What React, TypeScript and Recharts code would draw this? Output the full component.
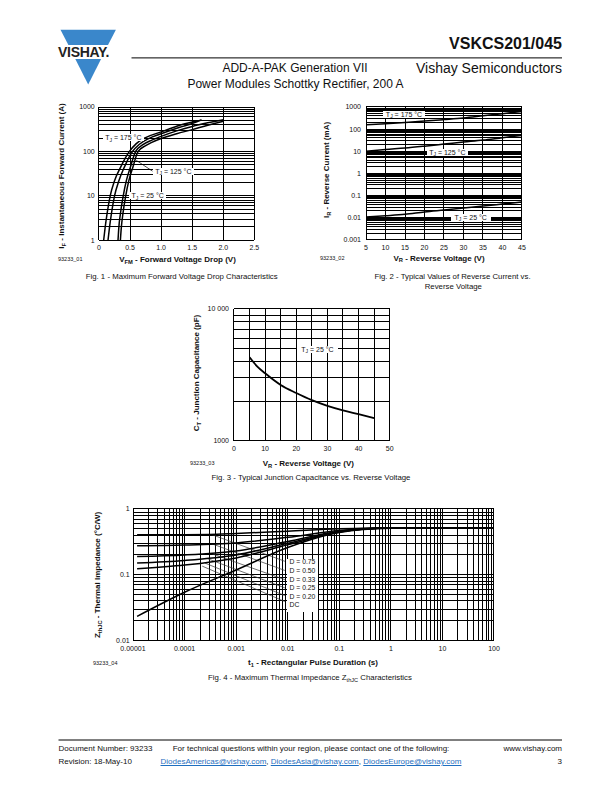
import React from 'react';
import { ComposedChart, Line, XAxis, YAxis, CartesianGrid } from 'recharts';

const FONT = '"Liberation Sans", Arial, Helvetica, sans-serif';

type Pt = { x: number; y: number };
const pts = (a: number[][]): Pt[] => a.map(([x, y]) => ({ x, y }));

// ---------------- Fig. 1 data ----------------
const fig1XTicks = [0, 0.5, 1, 1.5, 2, 2.5];
const fig1XLabels = ['0', '0.5', '1.0', '1.5', '2.0', '2.5'];
const fig1YDecades = [1, 10, 100, 1000];
const fig1YLabels = ['1', '10', '100', '1000'];
const fig1Tj175 = [[0.075, 1], [0.1, 2], [0.13, 4], [0.18, 10], [0.25, 22], [0.35, 45], [0.49, 100], [0.6, 150], [0.75, 205], [1.0, 275], [1.25, 370], [1.57, 484]];
const fig1Tj125 = [[0.145, 1], [0.17, 2], [0.2, 4], [0.25, 10], [0.32, 22], [0.41, 45], [0.54, 100], [0.65, 145], [0.8, 195], [1.0, 250], [1.3, 350], [1.5, 425], [1.65, 515]];
const fig1Tj25a = [[0.306, 1], [0.32, 2], [0.345, 4], [0.39, 10], [0.44, 22], [0.5, 42], [0.59, 100], [0.7, 140], [0.85, 180], [1.0, 218], [1.25, 290], [1.5, 365], [1.75, 440], [2.0, 518]];
const fig1Tj25b = [[0.344, 1], [0.36, 2], [0.385, 4], [0.43, 10], [0.48, 22], [0.54, 42], [0.63, 100], [0.75, 135], [0.85, 160], [1.0, 195], [1.25, 250], [1.5, 310], [1.75, 390], [2.0, 480]];
const fig1Leader125 = [[0.6, 63], [0.86, 36]];

// ---------------- Fig. 2 data ----------------
const fig2XTicks = [5, 10, 15, 20, 25, 30, 35, 40, 45];
const fig2XLabels = ['5', '10', '15', '20', '25', '30', '35', '40', '45'];
const fig2YDecades = [0.001, 0.01, 0.1, 1, 10, 100, 1000];
const fig2YLabels = ['0.001', '0.01', '0.1', '1', '10', '100', '1000'];
const fig2Tj175 = [[5, 155], [10, 175], [15, 200], [20, 230], [25, 270], [30, 320], [35, 400], [40, 500], [45, 620]];
const fig2Tj125 = [[5, 10], [10, 12], [15, 14], [20, 17], [25, 21], [30, 26], [35, 32], [40, 41], [45, 52]];
const fig2Tj25 = [[5, 0.0105], [10, 0.012], [15, 0.014], [20, 0.018], [25, 0.022], [30, 0.027], [35, 0.033], [40, 0.041], [45, 0.051]];

// ---------------- Fig. 3 data ----------------
const fig3XTicks = [0, 5, 10, 15, 20, 25, 30, 35, 40, 45, 50];
const fig3XLabelVals = [0, 10, 20, 30, 40, 50];
const fig3XLabels = ['0', '10', '20', '30', '40', '50'];
const fig3YDecades = [1000, 10000];
const fig3YLabels = ['1000', '10 000'];
const fig3Tj25 = [[5, 4300], [7.5, 3650], [10, 3250], [15, 2650], [20, 2300], [25, 2030], [30, 1840], [35, 1700], [40, 1590], [45, 1485]];

// ---------------- Fig. 4 data ----------------
const fig4XDecades = [0.00001, 0.0001, 0.001, 0.01, 0.1, 1, 10, 100];
const fig4XLabels = ['0.00001', '0.0001', '0.001', '0.01', '0.1', '1', '10', '100'];
const fig4YDecades = [0.01, 0.1, 1];
const fig4YLabels = ['0.01', '0.1', '1'];
const fig4D075 = [[1.2e-5, 0.406], [1e-4, 0.407], [3e-4, 0.41], [1e-3, 0.425], [0.01, 0.46], [0.1, 0.5], [1, 0.52], [100, 0.52]];
const fig4D050 = [[1.2e-5, 0.276], [1e-4, 0.283], [1e-3, 0.305], [0.01, 0.37], [0.1, 0.47], [1, 0.515], [100, 0.52]];
const fig4D033 = [[1.2e-5, 0.19], [1e-4, 0.2], [1e-3, 0.23], [0.01, 0.32], [0.1, 0.46], [1, 0.515], [100, 0.52]];
const fig4D025 = [[1.2e-5, 0.151], [1e-4, 0.165], [1e-3, 0.2], [0.01, 0.3], [0.1, 0.45], [1, 0.513], [100, 0.52]];
const fig4D020 = [[1.2e-5, 0.123], [1e-4, 0.14], [1e-3, 0.18], [0.01, 0.285], [0.1, 0.445], [1, 0.512], [100, 0.52]];
const fig4DC = [[1.2e-5, 0.0232], [1e-4, 0.054], [1e-3, 0.118], [0.01, 0.26], [0.1, 0.44], [1, 0.51], [10, 0.52], [100, 0.52]];
const fig4Leaders = [
  [[3.3e-4, 0.41], [0.0088, 0.16]],
  [[3.6e-4, 0.29], [0.0088, 0.116]],
  [[3.3e-4, 0.21], [0.0088, 0.084]],
  [[2.8e-4, 0.175], [0.0088, 0.063]],
  [[2.5e-4, 0.15], [0.0088, 0.048]],
  [[2.2e-4, 0.135], [0.0088, 0.039]],
];
const fig4LegendLabels = ['D = 0.75', 'D = 0.50', 'D = 0.33', 'D = 0.25', 'D = 0.20', 'DC'];

// ---------------- helpers ----------------
const logGrid = (decades: number[]): number[] => {
  const out: number[] = [];
  for (let i = 0; i < decades.length - 1; i++) {
    for (let m = 1; m < 10; m++) out.push(Number((decades[i] * m).toPrecision(6)));
  }
  out.push(decades[decades.length - 1]);
  return out;
};
const fmtFrom = (vals: number[], labels: string[]) => (v: number) => {
  const i = vals.findIndex((d) => Math.abs(d - v) <= Math.abs(d) * 1e-6 + 1e-12);
  return i >= 0 ? labels[i] : '';
};

interface SeriesDef { data: Pt[]; w: number; c: string; linear?: boolean }
interface PlotProps {
  rect: { l: number; r: number; t: number; b: number };
  xDomain: [number, number];
  yDomain: [number, number];
  xLog?: boolean;
  yLog?: boolean;
  xTicks: number[];
  yTicks: number[];
  xFmt: (v: number) => string;
  yFmt: (v: number) => string;
  xTickMargin: number;
  yTickMargin: number;
  series: SeriesDef[];
}

function Plot(p: PlotProps) {
  const YW = 45, XH = 20, PT = 6, PR = 14;
  const left = p.rect.l - YW;
  const top = p.rect.t - PT;
  const width = p.rect.r - p.rect.l + YW + PR;
  const height = p.rect.b - p.rect.t + PT + XH;
  const tick = { fontSize: 7, fill: '#111', fontFamily: FONT };
  return (
    <div style={{ position: 'absolute', left, top, width, height }}>
      <ComposedChart width={width} height={height} margin={{ top: PT, right: PR, bottom: 0, left: 0 }}>
        <CartesianGrid stroke="#000" strokeWidth={1} shapeRendering="crispEdges" />
        <XAxis
          type="number"
          dataKey="x"
          domain={p.xDomain}
          scale={p.xLog ? 'log' : 'linear'}
          ticks={p.xTicks}
          interval={0}
          tickFormatter={p.xFmt}
          allowDataOverflow
          axisLine={false}
          tickLine={false}
          tickSize={0}
          tickMargin={p.xTickMargin}
          height={XH}
          tick={tick}
        />
        <YAxis
          type="number"
          domain={p.yDomain}
          scale={p.yLog ? 'log' : 'linear'}
          ticks={p.yTicks}
          interval={0}
          tickFormatter={p.yFmt}
          allowDataOverflow
          axisLine={false}
          tickLine={false}
          tickSize={0}
          tickMargin={p.yTickMargin}
          width={YW}
          tick={tick}
        />
        {p.series.map((s, i) => (
          <Line
            key={i}
            data={s.data}
            dataKey="y"
            type={s.linear ? 'linear' : 'monotone'}
            dot={false}
            activeDot={false}
            stroke={s.c}
            strokeWidth={s.w}
            isAnimationActive={false}
          />
        ))}
      </ComposedChart>
    </div>
  );
}

const Sub = ({ children }: { children: React.ReactNode }) => (
  <span style={{ fontSize: '0.72em', position: 'relative', top: '0.28em' }}>{children}</span>
);

function T(props: { x: number; y: number; size: number; anchor?: 'start' | 'middle' | 'end'; bold?: boolean; color?: string; children: React.ReactNode }) {
  const tx = props.anchor === 'middle' ? '-50%' : props.anchor === 'end' ? '-100%' : '0';
  return (
    <div
      style={{
        position: 'absolute',
        left: props.x,
        top: props.y,
        transform: `translate(${tx}, -50%)`,
        fontSize: props.size,
        lineHeight: 1,
        fontWeight: props.bold ? 700 : 400,
        color: props.color || '#111',
        whiteSpace: 'nowrap',
        fontFamily: FONT,
      }}
    >
      {props.children}
    </div>
  );
}

function VT(props: { x: number; y: number; size: number; children: React.ReactNode }) {
  return (
    <div
      style={{
        position: 'absolute',
        left: props.x,
        top: props.y,
        transform: 'translate(-50%, -50%) rotate(-90deg)',
        fontSize: props.size,
        lineHeight: 1,
        fontWeight: 700,
        color: '#111',
        whiteSpace: 'nowrap',
        fontFamily: FONT,
      }}
    >
      {props.children}
    </div>
  );
}

function Box(props: { l: number; r: number; cy: number; h?: number; children: React.ReactNode }) {
  const h = props.h || 7;
  return (
    <div
      style={{
        position: 'absolute',
        left: props.l,
        top: props.cy - h / 2,
        width: props.r - props.l,
        height: h,
        background: '#fff',
        fontSize: 7,
        lineHeight: `${h}px`,
        textAlign: 'center',
        whiteSpace: 'nowrap',
        fontFamily: FONT,
        color: '#111',
      }}
    >
      {props.children}
    </div>
  );
}

const TJ = ({ t }: { t: string }) => (
  <span>
    T<Sub>J</Sub> = {t} °C
  </span>
);

export default function App() {
  const LINK = '#1f6fc0';
  return (
    <div style={{ position: 'absolute', left: 0, top: 0, width: 612, height: 792, background: '#fff', fontFamily: FONT, overflow: 'hidden' }}>
      {/* Logo */}
      <svg width={612} height={792} style={{ position: 'absolute', left: 0, top: 0 }}>
        <polygon points="60.5,29.8 115.9,29.8 108,45 68.4,45" fill="#3a87cb" />
        <polygon points="75.3,59 101.1,59 88.2,84.4" fill="#3a87cb" />
        <text x={58} y={57} fontSize={14} fontWeight={700} fontFamily={FONT} fill="#222" letterSpacing={-0.3}>VISHAY.</text>
        <line x1={131.5} y1={57.9} x2={562} y2={57.9} stroke="#000" strokeWidth={1} />
        <line x1={58.5} y1={740} x2={562} y2={740} stroke="#000" strokeWidth={1} />
      </svg>
      <T x={562} y={43.5} size={16} anchor="end" bold>VSKCS201/045</T>
      <T x={295} y={68} size={12} anchor="middle">ADD-A-PAK Generation VII</T>
      <T x={295.5} y={84} size={12} anchor="middle">Power Modules Schottky Rectifier, 200 A</T>
      <T x={562} y={68} size={14} anchor="end">Vishay Semiconductors</T>

      {/* Fig. 1 */}
      <Plot
        rect={{ l: 99.3, r: 254.7, t: 106.7, b: 240 }}
        xDomain={[0, 2.5]}
        yDomain={[1, 1000]}
        yLog
        xTicks={fig1XTicks}
        yTicks={logGrid(fig1YDecades)}
        xFmt={fmtFrom(fig1XTicks, fig1XLabels)}
        yFmt={fmtFrom(fig1YDecades, fig1YLabels)}
        xTickMargin={5}
        yTickMargin={4.3}
        series={[
          { data: pts(fig1Tj175), w: 1.5, c: '#000' },
          { data: pts(fig1Tj125), w: 1.5, c: '#000' },
          { data: pts(fig1Tj25a), w: 1.5, c: '#000' },
          { data: pts(fig1Tj25b), w: 1.5, c: '#000' },
          { data: pts(fig1Leader125), w: 0.7, c: '#000', linear: true },
        ]}
      />
      <Box l={102.7} r={144} cy={137.8}><TJ t="175" /></Box>
      <Box l={152.7} r={194} cy={171}><TJ t="125" /></Box>
      <Box l={129.3} r={166} cy={195.6}><TJ t="25" /></Box>
      <VT x={62} y={176} size={8}>I<Sub>F</Sub> - Instantaneous Forward Current (A)</VT>
      <T x={58} y={260} size={5.5}>93233_01</T>
      <T x={177.5} y={260} size={8} anchor="middle" bold>V<Sub>FM</Sub> - Forward Voltage Drop (V)</T>
      <T x={181.7} y={277} size={7.8} anchor="middle">Fig. 1 - Maximum Forward Voltage Drop Characteristics</T>

      {/* Fig. 2 */}
      <Plot
        rect={{ l: 365.7, r: 521.7, t: 107.3, b: 240 }}
        xDomain={[5, 45]}
        yDomain={[0.001, 1000]}
        yLog
        xTicks={fig2XTicks}
        yTicks={logGrid(fig2YDecades)}
        xFmt={fmtFrom(fig2XTicks, fig2XLabels)}
        yFmt={fmtFrom(fig2YDecades, fig2YLabels)}
        xTickMargin={5}
        yTickMargin={5}
        series={[
          { data: pts(fig2Tj175), w: 1.5, c: '#000' },
          { data: pts(fig2Tj125), w: 1.5, c: '#000' },
          { data: pts(fig2Tj25), w: 1.5, c: '#000' },
        ]}
      />
      <Box l={383} r={425} cy={114.5}><TJ t="175" /></Box>
      <Box l={426.7} r={468} cy={152}><TJ t="125" /></Box>
      <Box l={450.7} r={490.7} cy={217.5}><TJ t="25" /></Box>
      <VT x={327} y={170} size={8}>I<Sub>R</Sub> - Reverse Current (mA)</VT>
      <T x={320} y={258.5} size={5.5}>93233_02</T>
      <T x={439} y={258.5} size={8} anchor="middle" bold>V<Sub>R</Sub> - Reverse Voltage (V)</T>
      <T x={452.5} y={277} size={7.8} anchor="middle">Fig. 2 - Typical Values of Reverse Current vs.</T>
      <T x={453.3} y={286.5} size={7.8} anchor="middle">Reverse Voltage</T>

      {/* Fig. 3 */}
      <Plot
        rect={{ l: 234.3, r: 390, t: 309.3, b: 441 }}
        xDomain={[0, 50]}
        yDomain={[1000, 10000]}
        yLog
        xTicks={fig3XTicks}
        yTicks={logGrid(fig3YDecades)}
        xFmt={fmtFrom(fig3XLabelVals, fig3XLabels)}
        yFmt={fmtFrom(fig3YDecades, fig3YLabels)}
        xTickMargin={5.5}
        yTickMargin={5}
        series={[{ data: pts(fig3Tj25), w: 1.8, c: '#000' }]}
      />
      <Box l={297} r={338} cy={349}><TJ t="25" /></Box>
      <VT x={197} y={373} size={8}>C<Sub>T</Sub> - Junction Capacitance (pF)</VT>
      <T x={190} y={464} size={5.5}>93233_03</T>
      <T x={308.3} y={464} size={8} anchor="middle" bold>V<Sub>R</Sub> - Reverse Voltage (V)</T>
      <T x={311} y={478} size={7.8} anchor="middle">Fig. 3 - Typical Junction Capacitance vs. Reverse Voltage</T>

      {/* Fig. 4 */}
      <Plot
        rect={{ l: 133.3, r: 494.3, t: 509.3, b: 640.7 }}
        xDomain={[0.00001, 100]}
        yDomain={[0.01, 1]}
        xLog
        yLog
        xTicks={logGrid(fig4XDecades)}
        yTicks={logGrid(fig4YDecades)}
        xFmt={fmtFrom(fig4XDecades, fig4XLabels)}
        yFmt={fmtFrom(fig4YDecades, fig4YLabels)}
        xTickMargin={6}
        yTickMargin={3.3}
        series={[
          ...fig4Leaders.map((l) => ({ data: pts(l), w: 0.7, c: '#333', linear: true })),
          { data: pts(fig4D075), w: 1.5, c: '#000' },
          { data: pts(fig4D050), w: 1.5, c: '#000' },
          { data: pts(fig4D033), w: 1.5, c: '#000' },
          { data: pts(fig4D025), w: 1.5, c: '#000' },
          { data: pts(fig4D020), w: 1.5, c: '#000' },
          { data: pts(fig4DC), w: 1.5, c: '#000' },
        ]}
      />
      <div style={{ position: 'absolute', left: 287, top: 559, width: 31, height: 53, background: '#fff' }} />
      {fig4LegendLabels.map((s, i) => (
        <T key={s} x={289.5} y={[562, 571, 579.5, 588, 596.5, 605][i]} size={6.8}>{s}</T>
      ))}
      <VT x={98} y={575} size={8}>Z<Sub>thJC</Sub> - Thermal Impedance (°C/W)</VT>
      <T x={93} y={663.5} size={5.5}>93233_04</T>
      <T x={313} y={663} size={8} anchor="middle" bold>t<Sub>1</Sub> - Rectangular Pulse Duration (s)</T>
      <T x={310} y={678} size={7.8} anchor="middle">Fig. 4 - Maximum Thermal Impedance Z<Sub>thJC</Sub> Characteristics</T>

      {/* Footer */}
      <T x={58.5} y={749} size={8}>Document Number: 93233</T>
      <T x={58.5} y={762} size={8}>Revision: 18-May-10</T>
      <T x={311} y={749} size={8} anchor="middle">For technical questions within your region, please contact one of the following:</T>
      <T x={311} y={762} size={8} anchor="middle">
        <span style={{ color: LINK, textDecoration: 'underline' }}>DiodesAmericas@vishay.com</span>,{' '}
        <span style={{ color: LINK, textDecoration: 'underline' }}>DiodesAsia@vishay.com</span>,{' '}
        <span style={{ color: LINK, textDecoration: 'underline' }}>DiodesEurope@vishay.com</span>
      </T>
      <T x={562} y={749} size={8} anchor="end">www.vishay.com</T>
      <T x={562} y={762} size={8} anchor="end">3</T>
    </div>
  );
}
